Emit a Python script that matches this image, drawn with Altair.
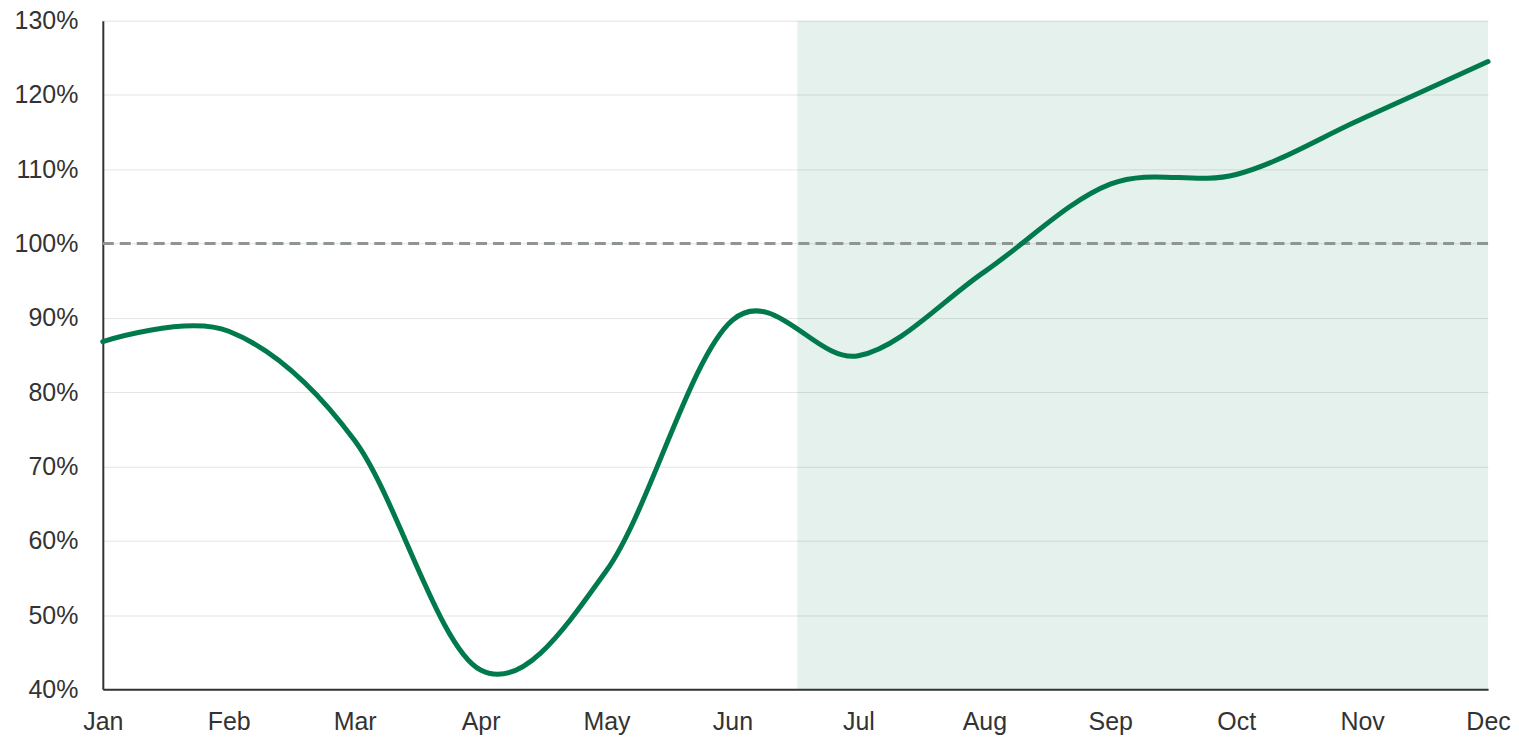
import altair as alt
import pandas as pd

MONTHS = ["Jan", "Feb", "Mar", "Apr", "May", "Jun", "Jul", "Aug", "Sep", "Oct", "Nov", "Dec"]
VALUES = [0.868, 0.882, 0.735, 0.426, 0.560, 0.897, 0.849, 0.962, 1.080, 1.093, 1.168, 1.245]
Y_TICKS = [0.4, 0.5, 0.6, 0.7, 0.8, 0.9, 1.0, 1.1, 1.2, 1.3]
SHADE_START = [5.515]   # mid-June
SHADE_END = [11]        # December
REFERENCE = [1.0]

GREEN = "#007A4D"
FONT = "Liberation Sans"

df = pd.DataFrame({"idx": list(range(len(MONTHS))), "month": MONTHS, "value": VALUES})
shade = pd.DataFrame({"start": SHADE_START, "end": SHADE_END,
                      "lo": [Y_TICKS[0]], "hi": [Y_TICKS[-1]]})
ref = pd.DataFrame({"ref": REFERENCE})

label_expr = "[" + ",".join(f"'{m}'" for m in MONTHS) + "][datum.value]"

x_scale = alt.Scale(domain=[0, len(MONTHS) - 1], nice=False, zero=False)
y_scale = alt.Scale(domain=[Y_TICKS[0], Y_TICKS[-1]], nice=False, zero=False)

x_axis = alt.Axis(values=list(range(len(MONTHS))), labelExpr=label_expr, title=None,
                  grid=False, ticks=False, domain=True, domainColor="#333333", domainWidth=2,
                  labelFont=FONT, labelFontSize=25, labelColor="#333333", labelPadding=20,
                  labelAlign="center", labelFlush=False, labelOverlap=False)
y_axis = alt.Axis(values=Y_TICKS, format=".0%", title=None, grid=True, gridColor="#e4e4e4",
                  gridWidth=1, ticks=False, domain=True, domainColor="#333333", domainWidth=2,
                  labelFont=FONT, labelFontSize=25, labelColor="#333333", labelPadding=25)

band = alt.Chart(shade).mark_rect(color=GREEN, opacity=0.1).encode(
    x=alt.X("start:Q", scale=x_scale, axis=x_axis),
    x2="end:Q",
    y=alt.Y("lo:Q", scale=y_scale, axis=y_axis),
    y2="hi:Q",
)

rule = alt.Chart(ref).mark_rule(color="#8f9691", strokeWidth=3, strokeDash=[11, 6]).encode(
    y=alt.Y("ref:Q", scale=y_scale)
)

line = alt.Chart(df).mark_line(color=GREEN, strokeWidth=5, interpolate="cardinal",
                               strokeCap="round").encode(
    x=alt.X("idx:Q", scale=x_scale),
    y=alt.Y("value:Q", scale=y_scale),
)

chart = alt.layer(band, rule, line).properties(
    width=1388, height=670,
    autosize=alt.AutoSizeParams(type="none"),
    padding={"left": 95, "top": 12, "right": 23, "bottom": 45},
).configure_view(stroke=None)

chart.save("out.html", embed_options={"renderer": "svg", "actions": False})
